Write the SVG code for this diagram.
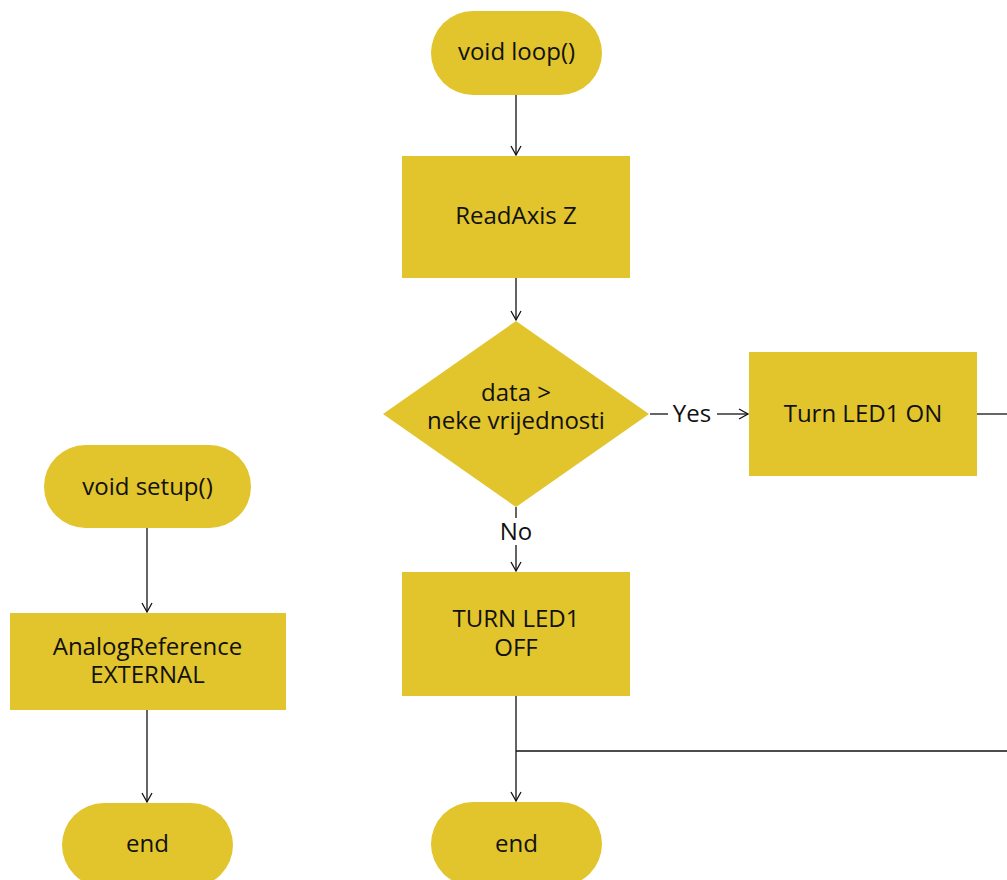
<svg xmlns="http://www.w3.org/2000/svg" width="1007" height="880" viewBox="0 0 1007 880">
  <defs>
    <marker id="arrow" markerWidth="12" markerHeight="12" refX="10" refY="6" orient="auto" markerUnits="userSpaceOnUse">
      <path d="M1,1 L10,6 L1,11" fill="none" stroke="#111" stroke-width="1.3"/>
    </marker>
    <style>
      .shape { fill: #E2C42C; }
      .label { font-family: "Open Sans", "Noto Sans", sans-serif; font-size: 24px; fill: #111; text-anchor: middle; }
      .edge { fill: none; stroke: #111; stroke-width: 1.3; }
    </style>
  </defs>
  <rect width="1007" height="880" fill="#fff"/>

  <g id="connectors">
    <path class="edge" d="M516,95 V155" marker-end="url(#arrow)"/>
    <path class="edge" d="M516,278 V320" marker-end="url(#arrow)"/>
    <path class="edge" d="M650,414 H668"/>
    <path class="edge" d="M717,414 H748" marker-end="url(#arrow)"/>
    <text class="label" x="692" y="422">Yes</text>
    <path class="edge" d="M977,414 H1007"/>
    <path class="edge" d="M516,507 V518"/>
    <path class="edge" d="M516,545 V571" marker-end="url(#arrow)"/>
    <text class="label" x="516" y="540">No</text>
    <path class="edge" d="M516,696 V801" marker-end="url(#arrow)"/>
    <path class="edge" d="M516,751 H1007"/>
    <path class="edge" d="M147,528 V612" marker-end="url(#arrow)"/>
    <path class="edge" d="M147,710 V802" marker-end="url(#arrow)"/>
  </g>

  <g id="loop-start">
    <rect class="shape" x="431" y="11" width="171" height="84" rx="42"/>
    <text class="label" x="516.5" y="60">void loop()</text>
  </g>
  <g id="read-axis">
    <rect class="shape" x="402" y="156" width="228" height="122"/>
    <text class="label" x="516" y="224">ReadAxis Z</text>
  </g>
  <g id="decision">
    <polygon class="shape" points="516,321 649,414 516,507 383,414"/>
    <text class="label" x="516" y="401">data &gt;</text>
    <text class="label" x="516" y="429">neke vrijednosti</text>
  </g>
  <g id="led-on">
    <rect class="shape" x="749" y="352" width="228" height="124"/>
    <text class="label" x="863" y="422">Turn LED1 ON</text>
  </g>
  <g id="led-off">
    <rect class="shape" x="402" y="572" width="228" height="124"/>
    <text class="label" x="516" y="627">TURN LED1</text>
    <text class="label" x="516" y="656">OFF</text>
  </g>
  <g id="loop-end">
    <rect class="shape" x="431" y="802" width="171" height="84" rx="42"/>
    <text class="label" x="516.5" y="852">end</text>
  </g>
  <g id="setup-start">
    <rect class="shape" x="44" y="445" width="207" height="83" rx="41.5"/>
    <text class="label" x="147.5" y="495">void setup()</text>
  </g>
  <g id="analog-ref">
    <rect class="shape" x="10" y="613" width="276" height="97"/>
    <text class="label" x="147.5" y="655">AnalogReference</text>
    <text class="label" x="147.5" y="683">EXTERNAL</text>
  </g>
  <g id="setup-end">
    <rect class="shape" x="62" y="803" width="171" height="84" rx="42"/>
    <text class="label" x="147.5" y="852">end</text>
  </g>
</svg>
